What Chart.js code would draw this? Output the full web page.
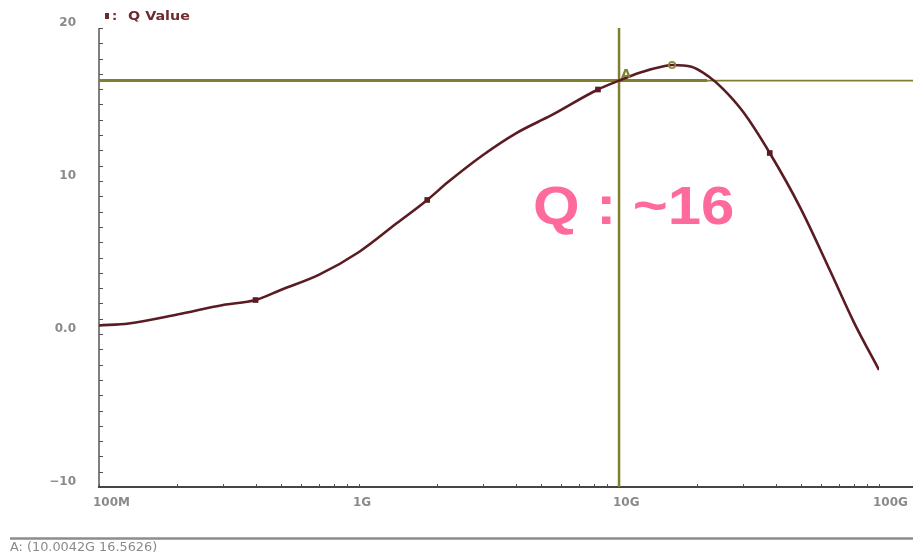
<!DOCTYPE html>
<html>
<head>
<meta charset="utf-8">
<script src="https://cdn.jsdelivr.net/npm/chart.js@4/dist/chart.umd.min.js"></script>
<style>
  html, body { margin: 0; padding: 0; background: #ffffff; }
  #wrap { width: 913px; height: 556px; position: relative; }
</style>
</head>
<body>
<div id="wrap"><canvas id="qplot"></canvas></div>
<script>
// Q factor versus frequency (Hz)
const freqHz = [1e8, 1.3e8, 2e8, 3e8, 4e8, 5e8, 7e8, 1e9, 1.4e9, 1.83e9, 2.2e9, 3e9, 4e9, 5.5e9,
                8.3e9, 1e10, 1.2e10, 1.5e10, 1.6e10, 1.9e10, 2.2e10, 2.5e10, 3e10, 3.8e10, 5e10,
                6.5e10, 8e10, 1e11];
const qValue = [0.56, 0.69, 1.27, 1.90, 2.22, 2.88, 3.86, 5.36, 7.25, 8.76, 9.93, 11.70, 13.10, 14.30,
                15.98, 16.56, 17.08, 17.52, 17.58, 17.47, 16.86, 16.05, 14.52, 11.83, 8.20,
                4.10, 0.78, -2.35];
const seriesName = 'Q Value';
const markerIndex = [4, 9, 14, 23];
const peakIndex = 18;

// tick labels
const xTickLabels = ['100M', '1G', '10G', '100G'];
const yTickLabels = ['\u221210', '0.0', '10', '20'];
const yTickValues = [-10, 0, 10, 20];

// cursor A readout
const cursorName = 'A';
const cursorFreq = 10.0042e9;
const cursorQ = 16.5626;
const cursorReadout = 'A: (10.0042G 16.5626)';
const noteText = 'Q : ~16';

const curveColor = '#5a1c22';
const cursorColor = '#7f7f30';
const labelFont = "'DejaVu Sans', sans-serif";

const frame = {
  id: 'frame',
  beforeDatasetsDraw(chart) {
    const { ctx, chartArea: ca, scales: { x, y } } = chart;
    ctx.save();
    // y axis line and ticks
    ctx.strokeStyle = '#808080';
    ctx.lineWidth = 2;
    ctx.beginPath(); ctx.moveTo(ca.left, ca.top); ctx.lineTo(ca.left, ca.bottom); ctx.stroke();
    ctx.strokeStyle = '#555555';
    ctx.lineWidth = 1;
    y.ticks.forEach(t => {
      const py = Math.round(y.getPixelForValue(t.value)) + 0.5;
      ctx.beginPath(); ctx.moveTo(ca.left, py); ctx.lineTo(ca.left + 4, py); ctx.stroke();
    });
    // x ticks and axis line
    x.ticks.forEach(t => {
      const px = Math.round(x.getPixelForValue(t.value)) + 0.5;
      ctx.beginPath(); ctx.moveTo(px, ca.bottom); ctx.lineTo(px, ca.bottom - 3); ctx.stroke();
    });
    ctx.strokeStyle = '#454545';
    ctx.lineWidth = 2;
    ctx.beginPath(); ctx.moveTo(ca.left - 1, ca.bottom); ctx.lineTo(chart.width, ca.bottom); ctx.stroke();

    // cursor crosshair
    const px = x.getPixelForValue(cursorFreq);
    const py = y.getPixelForValue(cursorQ);
    const bandEnd = x.getPixelForValue(2.18e10);
    ctx.strokeStyle = cursorColor;
    ctx.lineWidth = 2.5;
    ctx.beginPath(); ctx.moveTo(px, ca.top); ctx.lineTo(px, ca.bottom); ctx.stroke();
    ctx.lineWidth = 3;
    ctx.beginPath(); ctx.moveTo(ca.left, py); ctx.lineTo(bandEnd, py); ctx.stroke();
    ctx.lineWidth = 1.6;
    ctx.beginPath(); ctx.moveTo(bandEnd, py); ctx.lineTo(chart.width, py); ctx.stroke();
    ctx.restore();
  },
  afterDraw(chart) {
    const { ctx, chartArea: ca, scales: { x, y } } = chart;
    ctx.save();
    // cursor name
    const px = x.getPixelForValue(cursorFreq);
    const py = y.getPixelForValue(cursorQ);
    ctx.fillStyle = cursorColor;
    ctx.font = 'bold 13px ' + labelFont;
    ctx.textAlign = 'left';
    ctx.textBaseline = 'alphabetic';
    ctx.fillText(cursorName, px + 2, py - 3);

    // legend
    ctx.fillStyle = '#6e2a2e';
    ctx.fillRect(ca.left + 6, 13, 4, 6);
    ctx.font = 'bold 13px ' + labelFont;
    ctx.fillText(':', ca.left + 13, 20);
    ctx.save();
    ctx.translate(ca.left + 29, 20);
    ctx.scale(1.1, 1);
    ctx.fillText(seriesName, 0, 0);
    ctx.restore();

    // readout strip
    ctx.strokeStyle = '#8c8c8c';
    ctx.lineWidth = 2.5;
    ctx.beginPath(); ctx.moveTo(10, 538.5); ctx.lineTo(chart.width, 538.5); ctx.stroke();
    ctx.fillStyle = '#8a8a8a';
    ctx.font = '12px ' + labelFont;
    ctx.save();
    ctx.translate(10, 551);
    ctx.scale(1.07, 1);
    ctx.fillText(cursorReadout, 0, 0);
    ctx.restore();

    // note
    ctx.fillStyle = '#ff6a9d';
    ctx.font = "bold 53px 'Liberation Sans', Arial, sans-serif";
    ctx.translate(533, 224);
    ctx.scale(1.13, 1);
    ctx.fillText(noteText, 0, 0);
    ctx.restore();
  }
};

const tickFont = { family: labelFont, size: 12, weight: 'bold' };

new Chart(document.getElementById('qplot'), {
  type: 'line',
  data: {
    datasets: [
      {
        label: seriesName,
        data: freqHz.map((f, i) => ({ x: f, y: qValue[i] })),
        borderColor: curveColor,
        borderWidth: 2.6,
        cubicInterpolationMode: 'monotone',
        pointStyle: 'rect',
        pointRadius: c => markerIndex.includes(c.dataIndex) ? 4 : 0,
        pointBackgroundColor: curveColor,
        pointBorderWidth: 0,
        fill: false,
        order: 2
      },
      {
        label: 'peak',
        data: [{ x: freqHz[peakIndex], y: qValue[peakIndex] }],
        showLine: false,
        pointStyle: 'circle',
        pointRadius: 3.2,
        pointBorderColor: '#8a8a3a',
        pointBackgroundColor: 'rgba(0,0,0,0)',
        pointBorderWidth: 1.6,
        order: 1
      }
    ]
  },
  options: {
    responsive: true,
    maintainAspectRatio: false,
    animation: false,
    events: [],
    layout: { padding: { top: 28, right: 34, left: 0, bottom: 0 } },
    plugins: { legend: { display: false }, tooltip: { enabled: false } },
    scales: {
      x: {
        type: 'logarithmic',
        min: 1e8,
        max: 1e11,
        afterBuildTicks(scale) {
          const ticks = [];
          for (let d = 8; d <= 11; d++) {
            for (let m = 1; m <= 9; m++) {
              if (d === 11 && m > 1) break;
              ticks.push({ value: m * Math.pow(10, d) });
            }
          }
          scale.ticks = ticks;
        },
        afterFit(scale) {
          scale.height = 69;
          scale.paddingLeft = 0;
          scale.paddingRight = 0;
        },
        grid: { display: false, drawTicks: false },
        border: { display: false },
        ticks: {
          autoSkip: false,
          maxRotation: 0,
          align: 'start',
          labelOffset: -6,
          padding: 9,
          color: '#8a8a8a',
          font: tickFont,
          callback(value) {
            const e = Math.log10(value);
            const k = Math.round(e);
            return Math.abs(e - k) < 1e-6 ? xTickLabels[k - 8] : '';
          }
        }
      },
      y: {
        type: 'linear',
        min: -10,
        max: 20,
        afterBuildTicks(scale) {
          const ticks = [];
          for (let v = -10; v <= 20; v++) ticks.push({ value: v });
          scale.ticks = ticks;
        },
        afterFit(scale) {
          scale.width = 99;
          scale.paddingTop = 0;
          scale.paddingBottom = 0;
        },
        grid: { display: false, drawTicks: false },
        border: { display: false },
        ticks: {
          autoSkip: false,
          padding: 23,
          labelOffset: -5,
          color: '#8a8a8a',
          font: tickFont,
          callback(value) {
            const i = yTickValues.indexOf(value);
            return i >= 0 ? yTickLabels[i] : '';
          }
        }
      }
    }
  },
  plugins: [frame]
});
</script>
</body>
</html>
